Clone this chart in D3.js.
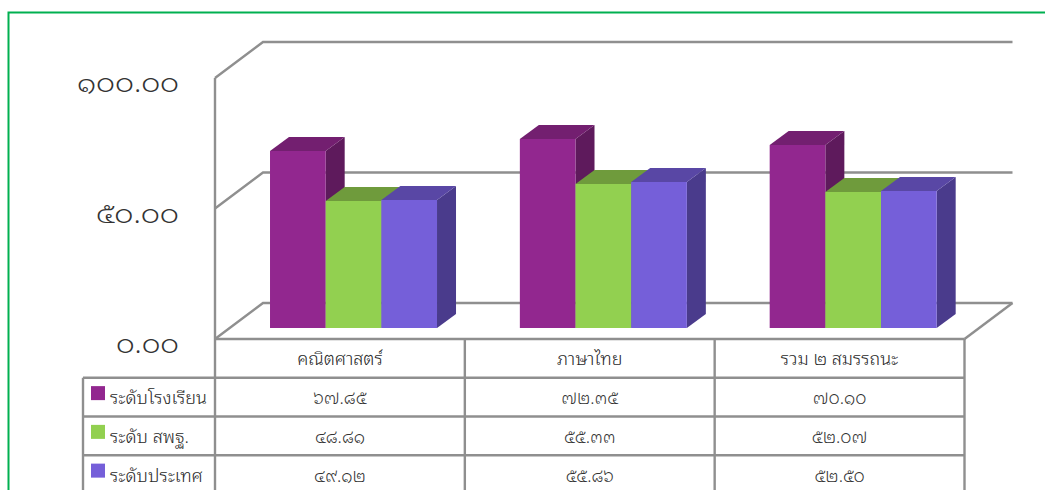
<!DOCTYPE html>
<html lang="th">
<head>
<meta charset="utf-8">
<script src="https://cdn.jsdelivr.net/npm/d3@7"></script>
<style>
  html, body { margin: 0; padding: 0; background: #fff; overflow: hidden; }
  text { font-family: "Noto Sans Thai Looped", "Noto Sans", "DejaVu Sans", sans-serif; font-weight: 300; fill: #2a2a2a; }
  .num { fill: #333; }
</style>
</head>
<body>
<div id="chart"></div>
<script>
const categories = ['คณิตศาสตร์', 'ภาษาไทย', 'รวม ๒ สมรรถนะ'];
const seriesNames = ['ระดับโรงเรียน', 'ระดับ สพฐ.', 'ระดับประเทศ'];
const schoolValues = [67.85, 72.35, 70.10];
const obecValues = [48.81, 55.33, 52.07];
const countryValues = [49.12, 55.86, 52.50];
const yTicks = [0, 50, 100];

const seriesValues = [schoolValues, obecValues, countryValues];
const frontColor = ['#92278f', '#92d050', '#755fd9'];
const topColor = ['#731f70', '#6f9b3c', '#5947a5'];
const sideColor = ['#5e1a5c', '#5a7f30', '#4a3b8c'];
const gridColor = '#8f8f8f';
const gridWidth = 2.4;

const width = 1045, height = 490;

const svg = d3.select('#chart').append('svg')
  .attr('width', width)
  .attr('height', height);

// page frame, runs off the right and bottom of the window
svg.append('path')
  .attr('d', 'M1045,12.5H8.5V490')
  .attr('fill', 'none')
  .attr('stroke', '#00b050')
  .attr('stroke-width', 2);

const y = d3.scaleLinear().domain([0, 100]).range([339, 78]);
const x = d3.scaleBand().domain(categories).range([215, 964.5]);
const xSeries = d3.scaleBand().domain(d3.range(3)).range([0, 167]);
const rowY = d3.scaleBand().domain(d3.range(4)).range([339, 494]);

const depthX = 48, depthY = 36;   // walls
const barOffX = 15, barOffY = 11; // bars stand a bit into the floor
const barDepthX = 19, barDepthY = 14;

const thaiDigits = s => s.replace(/[0-9]/g, c => '๐๑๒๓๔๕๖๗๘๙'[+c]);
const fmt = d3.format('.2f');

// walls and floor
yTicks.forEach(t => {
  svg.append('path')
    .attr('d', `M${x.range()[0]},${y(t)}L${x.range()[0] + depthX},${y(t) - depthY}H${x.range()[1] + depthX}`)
    .attr('fill', 'none')
    .attr('stroke', gridColor)
    .attr('stroke-width', gridWidth);
});
svg.append('line')
  .attr('x1', x.range()[0]).attr('x2', x.range()[0])
  .attr('y1', y(100)).attr('y2', y(0))
  .attr('stroke', gridColor).attr('stroke-width', gridWidth);
svg.append('line')
  .attr('x1', x.range()[1]).attr('y1', y(0))
  .attr('x2', x.range()[1] + depthX).attr('y2', y(0) - depthY)
  .attr('stroke', gridColor).attr('stroke-width', gridWidth);

const yAxis = svg.append('g')
  .attr('transform', 'translate(179,5)')
  .call(d3.axisLeft(y).tickValues(yTicks).tickSize(0).tickPadding(0).tickFormat(d => thaiDigits(fmt(d))));
yAxis.select('.domain').remove();
yAxis.selectAll('text')
  .attr('class', 'num')
  .style('font-size', '27px')
  .attr('textLength', d => d === 100 ? 102 : d === 50 ? 83 : 63)
  .attr('lengthAdjust', 'spacingAndGlyphs');

// bars
categories.forEach((cat, c) => {
  const left = x(cat) + barOffX + (x.bandwidth() - barOffX * 2 - 167) / 2 + 13.6;
  seriesValues.forEach((vals, s) => {
    const x0 = left + xSeries(s);
    const w = xSeries.bandwidth();
    const yTop = Math.round(y(vals[c]) - barOffY);
    const yBase = y(0) - barOffY;
    const g = svg.append('g');
    g.append('path')
      .attr('d', `M${x0 + w},${yTop}l${barDepthX},${-barDepthY}V${yBase - barDepthY}l${-barDepthX},${barDepthY}Z`)
      .attr('fill', sideColor[s]);
    g.append('path')
      .attr('d', `M${x0},${yTop}l${barDepthX},${-barDepthY}h${w}l${-barDepthX},${barDepthY}Z`)
      .attr('fill', topColor[s]);
    g.append('rect')
      .attr('x', x0).attr('y', yTop)
      .attr('width', w).attr('height', yBase - yTop)
      .attr('fill', frontColor[s]);
  });
});

// data table under the chart
const tableLeft = 83;
rowY.domain().forEach(r => {
  if (r === 0) return;
  svg.append('line')
    .attr('x1', tableLeft).attr('x2', x.range()[1])
    .attr('y1', rowY(r)).attr('y2', rowY(r))
    .attr('stroke', gridColor).attr('stroke-width', gridWidth);
});
svg.append('line')
  .attr('x1', x.range()[0]).attr('x2', x.range()[1])
  .attr('y1', y(0)).attr('y2', y(0))
  .attr('stroke', gridColor).attr('stroke-width', gridWidth);
svg.append('line')
  .attr('x1', tableLeft).attr('x2', tableLeft)
  .attr('y1', rowY(1)).attr('y2', height)
  .attr('stroke', gridColor).attr('stroke-width', gridWidth);
[...categories.map(c => x(c)), x.range()[1]].forEach(px => {
  svg.append('line')
    .attr('x1', px).attr('x2', px)
    .attr('y1', y(0)).attr('y2', height)
    .attr('stroke', gridColor).attr('stroke-width', gridWidth);
});

categories.forEach(cat => {
  svg.append('text')
    .attr('x', x(cat) + x.bandwidth() / 2)
    .attr('y', rowY(0) + rowY.bandwidth() / 2 + 7)
    .attr('text-anchor', 'middle')
    .style('font-size', '18px')
    .text(cat);
});

seriesNames.forEach((name, s) => {
  const rowMid = rowY(s + 1) + rowY.bandwidth() / 2;
  svg.append('rect')
    .attr('x', 91).attr('y', rowMid - 11)
    .attr('width', 14).attr('height', 14)
    .attr('fill', frontColor[s]);
  svg.append('text')
    .attr('x', 110).attr('y', rowMid + 7)
    .style('font-size', '18px')
    .text(name);
  categories.forEach((cat, c) => {
    svg.append('text')
      .attr('class', 'num')
      .attr('x', x(cat) + x.bandwidth() / 2)
      .attr('y', rowMid + 7)
      .attr('text-anchor', 'middle')
      .style('font-size', '17.5px')
      .text(thaiDigits(fmt(seriesValues[s][c])));
  });
});
</script>
</body>
</html>
